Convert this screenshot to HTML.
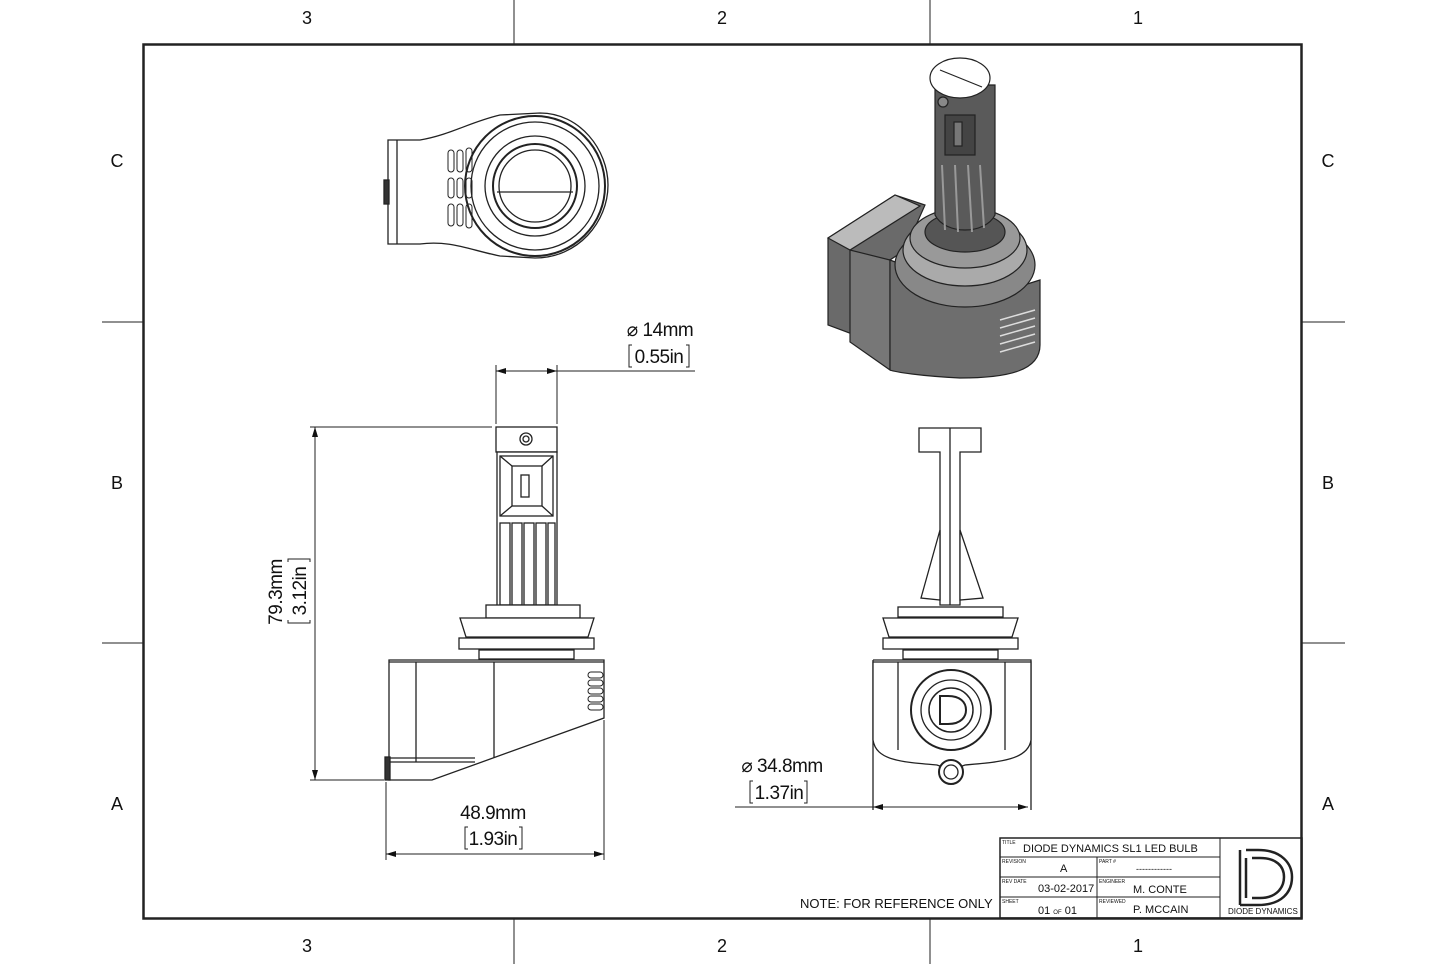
<!DOCTYPE html>
<html><head><meta charset="utf-8"><style>
html,body{margin:0;padding:0;background:#fff}
svg{display:block}
text{font-family:"Liberation Sans",Arial,sans-serif;fill:#111}
</style></head><body>
<svg width="1445" height="964" viewBox="0 0 1445 964" xmlns="http://www.w3.org/2000/svg">
<defs>
<marker id="a" viewBox="0 0 10 6" refX="10" refY="3" markerWidth="12" markerHeight="6" orient="auto-start-reverse" markerUnits="userSpaceOnUse"><path d="M0,0 L10,3 L0,6z" fill="#111"/></marker>
</defs>
<rect width="1445" height="964" fill="#fff"/>
<!-- frame -->
<g stroke="#222" fill="none">
<rect x="143.5" y="44.5" width="1158" height="874" stroke-width="2.5"/>
<line x1="514" y1="0" x2="514" y2="44"/><line x1="930" y1="0" x2="930" y2="44"/>
<line x1="514" y1="918" x2="514" y2="964"/><line x1="930" y1="918" x2="930" y2="964"/>
<line x1="102" y1="322" x2="143" y2="322"/><line x1="102" y1="643" x2="143" y2="643"/>
<line x1="1302" y1="322" x2="1345" y2="322"/><line x1="1302" y1="643" x2="1345" y2="643"/>
</g>
<g font-size="18" text-anchor="middle">
<text x="307" y="24">3</text><text x="722" y="24">2</text><text x="1138" y="24">1</text>
<text x="307" y="952">3</text><text x="722" y="952">2</text><text x="1138" y="952">1</text>
<text x="117" y="167">C</text><text x="117" y="489">B</text><text x="117" y="810">A</text>
<text x="1328" y="167">C</text><text x="1328" y="489">B</text><text x="1328" y="810">A</text>
</g>

<!-- top view -->
<g stroke="#222" fill="none" stroke-width="1.3">
<path d="M388,140 L420,140 C450,135 470,122 500,115 L540,113 C580,113 608,150 608,185 C608,222 578,258 535,258 L500,256 C470,250 450,240 420,244 L388,244 Z" fill="#fff"/>
<line x1="397" y1="140" x2="397" y2="244"/>
<rect x="384" y="180" width="5" height="24" fill="#333"/>
<circle cx="535" cy="186" r="70" stroke-width="2"/>
<circle cx="535" cy="186" r="64"/>
<circle cx="535" cy="186" r="50"/>
<circle cx="535" cy="186" r="42" stroke-width="2"/>
<circle cx="535" cy="186" r="36"/>
<line x1="497" y1="192" x2="573" y2="192"/>
<g stroke-width="1">
<rect x="448" y="150" width="6" height="22" rx="3"/><rect x="457" y="150" width="6" height="22" rx="3"/><rect x="466" y="148" width="6" height="24" rx="3"/>
<rect x="448" y="178" width="6" height="20" rx="3"/><rect x="457" y="178" width="6" height="20" rx="3"/><rect x="466" y="178" width="6" height="20" rx="3"/>
<rect x="448" y="204" width="6" height="22" rx="3"/><rect x="457" y="204" width="6" height="22" rx="3"/><rect x="466" y="204" width="6" height="24" rx="3"/>
</g>
</g>

<!-- iso view -->
<g stroke="#222" stroke-width="1.2">
<path d="M828,238 L895,195 L925,205 L905,250 L890,260 L890,360 L855,335 L828,325 Z" fill="#6a6a6a"/>
<path d="M828,238 L895,195 L920,206 L850,250 Z" fill="#bbb"/>
<path d="M850,250 L850,342 L890,370 L890,260 Z" fill="#777"/>
<path d="M890,260 C920,270 935,300 960,305 L1040,280 L1040,345 C1040,370 1010,378 960,378 C920,376 895,372 890,370 Z" fill="#6e6e6e"/>
<ellipse cx="965" cy="265" rx="70" ry="42" fill="#888"/>
<ellipse cx="965" cy="250" rx="62" ry="36" fill="#aaa"/>
<ellipse cx="965" cy="238" rx="55" ry="30" fill="#999"/>
<ellipse cx="965" cy="232" rx="40" ry="20" fill="#555"/>
<path d="M935,85 L935,215 C945,235 985,235 995,215 L995,85 Z" fill="#5a5a5a"/>
<ellipse cx="960" cy="78" rx="30" ry="20" fill="#fff"/>
<line x1="940" y1="70" x2="982" y2="87" stroke="#222"/>
<rect x="945" y="115" width="30" height="40" fill="#444"/>
<rect x="954" y="122" width="8" height="24" fill="#777"/>
<circle cx="943" cy="102" r="5" fill="#888"/>
<g stroke="#999" stroke-width="2"><line x1="942" y1="165" x2="945" y2="230"/><line x1="955" y1="165" x2="958" y2="232"/><line x1="968" y1="165" x2="972" y2="232"/><line x1="980" y1="165" x2="984" y2="228"/></g>
<g stroke="#ddd" stroke-width="1.5"><line x1="1000" y1="320" x2="1035" y2="310"/><line x1="1000" y1="328" x2="1035" y2="318"/><line x1="1000" y1="336" x2="1035" y2="326"/><line x1="1000" y1="344" x2="1035" y2="334"/><line x1="1000" y1="352" x2="1035" y2="342"/></g>
</g>

<!-- left front view -->
<g stroke="#222" fill="#fff" stroke-width="1.3">
<rect x="496" y="427" width="61" height="25"/>
<circle cx="526" cy="439" r="6"/><circle cx="526" cy="439" r="3"/>
<rect x="497" y="452" width="60" height="154"/>
<rect x="500" y="456" width="53" height="60"/>
<rect x="512" y="466" width="30" height="40"/>
<rect x="521" y="475" width="8" height="22"/>
<line x1="500" y1="456" x2="512" y2="466"/><line x1="553" y1="456" x2="542" y2="466"/><line x1="500" y1="516" x2="512" y2="506"/><line x1="553" y1="516" x2="542" y2="506"/>
<g fill="none"><rect x="500" y="523" width="10" height="82"/><rect x="512" y="523" width="10" height="82"/><rect x="524" y="523" width="10" height="82"/><rect x="536" y="523" width="10" height="82"/><rect x="548" y="523" width="7" height="82"/></g>
<rect x="486" y="605" width="94" height="13"/>
<path d="M460,618 L594,618 L588,637 L466,637 Z"/>
<rect x="459" y="638" width="135" height="11"/>
<rect x="479" y="650" width="95" height="9"/>
<path d="M389,660 L604,660 L604,718 L432,780 L389,780 Z"/>
<line x1="389" y1="662" x2="604" y2="662"/>
<line x1="416" y1="662" x2="416" y2="762"/><line x1="494" y1="662" x2="494" y2="758"/>
<line x1="389" y1="762" x2="475" y2="762"/><line x1="389" y1="758" x2="475" y2="758"/>
<rect x="385" y="757" width="5" height="23" fill="#333"/>
<g fill="none" stroke-width="1"><rect x="588" y="672" width="15" height="6" rx="3"/><rect x="588" y="680" width="15" height="6" rx="3"/><rect x="588" y="688" width="15" height="6" rx="3"/><rect x="588" y="696" width="15" height="6" rx="3"/><rect x="588" y="704" width="15" height="6" rx="3"/></g>
</g>

<!-- right front view -->
<g stroke="#222" fill="#fff" stroke-width="1.3">
<path d="M919,428 L981,428 L981,452 L960,452 L960,605 L940,605 L940,452 L919,452 Z"/>
<line x1="950" y1="428" x2="950" y2="605"/>
<path d="M940,530 L921,598 L940,600 Z"/><path d="M960,530 L983,598 L960,600 Z"/>
<rect x="898" y="607" width="105" height="10"/>
<path d="M883,618 L1018,618 L1012,637 L889,637 Z"/>
<rect x="883" y="638" width="135" height="11"/>
<rect x="903" y="650" width="95" height="9"/>
<path d="M873,660 L1031,660 L1031,810 M873,810 L873,660" fill="none"/>
<path d="M873,662 L1031,662 L1031,740 C1028,760 1000,762 965,765 L951,770 L937,765 C900,762 876,760 873,740 Z"/>
<line x1="898" y1="662" x2="898" y2="750"/><line x1="1005" y1="662" x2="1005" y2="750"/>
<circle cx="951" cy="710" r="40" stroke-width="2"/>
<circle cx="951" cy="710" r="30"/>
<circle cx="951" cy="710" r="22" stroke-width="1.5"/>
<path d="M940,696 L940,724 L948,724 C962,724 966,716 966,710 C966,702 960,696 948,696 Z" fill="none" stroke-width="2"/>
<circle cx="951" cy="772" r="12" stroke-width="2"/><circle cx="951" cy="772" r="7"/>
</g>

<!-- dimensions -->
<g stroke="#222" stroke-width="1" fill="none">
<line x1="496" y1="365" x2="496" y2="424"/><line x1="557" y1="365" x2="557" y2="424"/>
<line x1="496" y1="371" x2="557" y2="371" marker-start="url(#a)" marker-end="url(#a)"/>
<line x1="557" y1="371" x2="695" y2="371"/>
<line x1="310" y1="427" x2="492" y2="427"/><line x1="310" y1="780" x2="384" y2="780"/>
<line x1="315" y1="427" x2="315" y2="780" marker-start="url(#a)" marker-end="url(#a)"/>
<line x1="386" y1="782" x2="386" y2="860"/><line x1="604" y1="720" x2="604" y2="860"/>
<line x1="386" y1="854" x2="604" y2="854" marker-start="url(#a)" marker-end="url(#a)"/>
<line x1="735" y1="807" x2="873" y2="807"/>
<line x1="873" y1="807" x2="1028" y2="807" marker-start="url(#a)" marker-end="url(#a)"/>
<path d="M632,345 h-3 v22 h3 M686,345 h3 v22 h-3"/>
<path d="M753,781 h-3 v22 h3 M804,781 h3 v22 h-3"/>
<path d="M468,827 h-3 v22 h3 M519,827 h3 v22 h-3"/>
<path d="M288,562 v-3 h22 v3 M288,620 v3 h22 v-3"/>
</g>
<g font-size="19" text-anchor="middle" style="letter-spacing:-0.5px">
<text x="660" y="336">⌀ 14mm</text><text x="659" y="363">0.55in</text>
<text x="782" y="772">⌀ 34.8mm</text><text x="779" y="799">1.37in</text>
<text x="493" y="819">48.9mm</text><text x="493" y="845">1.93in</text>
<text transform="translate(282,592) rotate(-90)">79.3mm</text>
<text transform="translate(306,591) rotate(-90)">3.12in</text>
</g>

<text x="800" y="908" font-size="13">NOTE: FOR REFERENCE ONLY</text>

<!-- title block -->
<g stroke="#222" fill="none" stroke-width="1">
<rect x="1000" y="838" width="302" height="80" stroke-width="1.5"/>
<line x1="1220" y1="838" x2="1220" y2="918"/>
<line x1="1000" y1="857" x2="1220" y2="857"/><line x1="1000" y1="877" x2="1220" y2="877"/><line x1="1000" y1="897" x2="1220" y2="897"/>
<line x1="1097" y1="857" x2="1097" y2="918"/>
<path d="M1240,850 L1240,905 M1246,858 L1246,898 M1246,850 L1258,850 C1282,850 1292,864 1292,877 C1292,892 1282,905 1258,905 L1240,905 M1252,858 L1260,858 C1276,858 1284,866 1284,877 C1284,888 1276,898 1260,898 L1252,898" stroke-width="2.5"/>
</g>
<g font-size="5" fill="#333">
<text x="1002" y="844">TITLE</text><text x="1002" y="863">REVISION</text><text x="1002" y="883">REV DATE</text><text x="1002" y="903">SHEET</text>
<text x="1099" y="863">PART #</text><text x="1099" y="883">ENGINEER</text><text x="1099" y="903">REVIEWED</text>
</g>
<g font-size="11">
<text x="1023" y="852">DIODE DYNAMICS SL1 LED BULB</text>
<text x="1060" y="872">A</text>
<text x="1136" y="872" font-size="9">------------</text>
<text x="1038" y="892">03-02-2017</text>
<text x="1133" y="893">M. CONTE</text>
<text x="1038" y="914">01 <tspan font-size="6">OF</tspan> 01</text>
<text x="1133" y="913">P. MCCAIN</text>
<text x="1228" y="914" font-size="8" font-family="Liberation Serif">DIODE DYNAMICS</text>
</g>
</svg>
</body></html>
